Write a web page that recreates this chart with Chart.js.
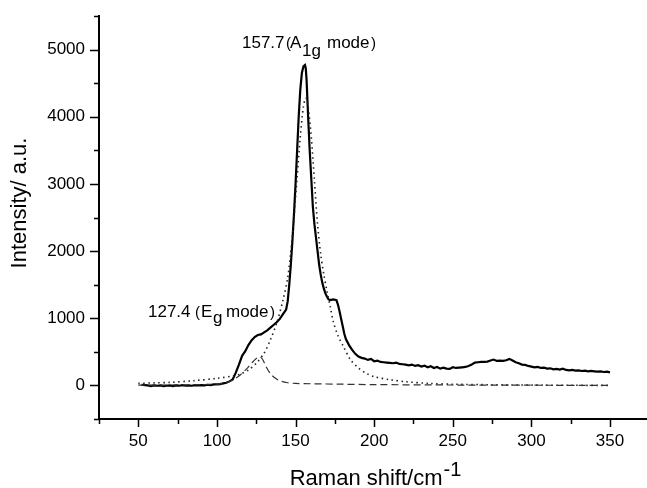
<!DOCTYPE html>
<html><head><meta charset="utf-8">
<script src="https://cdn.jsdelivr.net/npm/chart.js@4.4.1/dist/chart.umd.min.js"></script>
<style>html,body{margin:0;padding:0;background:#fff;overflow:hidden}#wrap{width:647px;height:488px;position:relative}</style>
</head><body><div id="wrap"><canvas id="c" width="647" height="488"></canvas></div>
<script>
// Measured Raman spectrum (solid)
const shiftX = [52,54,56,58,60,62,64,66,68,70,72,74,76,78,80,82,84,86,88,90,92,94,96,98,100,102,104,106,108,110,112,114,116,118,120,122,124,126,128,130,132,134,136,138,140,142,144,145,146,147,148,149,150,151,152,153,154,155,156,156.5,157,158,159,160,161,162,163,164,165,166,167,168,169,170,171,172,174,176,177,178,179,180,181,182,184,186,188,190,192,194,196,198,200,202,204,206,208,210,212,214,216,218,220,222,224,226,228,230,232,234,236,238,240,242,244,246,248,250,252,254,256,258,260,262,264,266,268,270,272,274,276,278,280,282,284,286,288,290,292,294,296,298,300,302,304,306,308,310,312,314,316,318,320,322,324,326,328,330,332,334,336,338,340,342,344,346,348,350];
const measured = [10,5,0,-10,0,-5,0,-10,-5,0,-10,0,-5,5,-5,0,-5,5,0,5,0,10,5,15,15,20,30,40,60,90,190,310,440,510,600,670,720,750,760,790,820,860,900,940,990,1060,1130,1250,1500,1800,2150,2550,3000,3500,4000,4400,4650,4750,4770,4720,4550,4000,3500,3080,2660,2400,2200,2000,1800,1650,1530,1440,1370,1320,1280,1270,1280,1270,1200,1100,990,880,770,690,600,530,470,430,410,400,380,395,360,370,350,345,340,335,330,340,320,315,310,300,310,290,300,280,295,270,285,260,275,250,265,250,245,270,260,265,270,275,290,310,340,345,350,350,355,370,385,365,370,365,375,395,370,345,330,310,305,290,280,270,275,260,265,250,255,240,245,235,250,230,225,230,220,225,215,220,210,215,210,205,210,200,205,195];
// A1g fitted component (dotted)
const fitA1gX = [50,60,70,85,100,110,115,120,125,130,134,138,142,145,147,149,151,153,155,156.5,158,160,162,164,166,168,170,172,174,177,180,185,190,195,200,210,220,235,250,275,300,325,350];
const fitA1g = [30,38,45,70,105,140,170,230,330,480,680,925,1270,1600,2000,2500,3100,3700,4150,4280,4150,3700,3050,2400,1950,1650,1400,1180,950,740,600,380,260,180,130,85,55,30,18,10,5,2,0];
// Eg fitted component (dashed)
const fitEgX = [50,80,100,105,110,115,119,122,125,127,129,131,134,137,140,145,150,160,180,200,250,300,350];
const fitEg = [5,8,20,35,80,160,250,330,400,425,390,290,175,110,70,40,30,25,18,12,6,3,0];
// Axis ticks
const xMajor = [50,100,150,200,250,300,350];
const xMinor = [25,75,125,175,225,275,325];
const yMajor = [0,1000,2000,3000,4000,5000];
const yMinor = [-500,500,1500,2500,3500,4500,5500];

const FONT = "'Liberation Sans', Arial, sans-serif";
const toPts = (xs, ys) => xs.map((x, i) => ({x: x, y: ys[i]}));

const deco = {
  id: 'deco',
  afterDraw(chart) {
    const ctx = chart.ctx, xs = chart.scales.x, ys = chart.scales.y, a = chart.chartArea;
    ctx.save();
    ctx.strokeStyle = '#000';
    ctx.lineWidth = 1.5;
    ctx.beginPath();
    xMajor.forEach(v => { const p = Math.round(xs.getPixelForValue(v)) + 0.5; ctx.moveTo(p, a.bottom); ctx.lineTo(p, a.bottom + 8); });
    xMinor.forEach(v => { if (v < xs.min) return; const p = Math.round(xs.getPixelForValue(v)) + 0.5; ctx.moveTo(p, a.bottom); ctx.lineTo(p, a.bottom + 5); });
    yMajor.forEach(v => { const p = Math.round(ys.getPixelForValue(v)) + 0.5; ctx.moveTo(a.left, p); ctx.lineTo(a.left - 9, p); });
    yMinor.forEach(v => { const p = Math.round(ys.getPixelForValue(v)) + 0.5; ctx.moveTo(a.left, p); ctx.lineTo(a.left - 5, p); });
    ctx.stroke();

    ctx.fillStyle = '#000';
    ctx.textBaseline = 'alphabetic';
    const t1 = 'Raman shift/cm', sup = '-1';
    ctx.font = '22px ' + FONT; const w1 = ctx.measureText(t1).width;
    ctx.font = '20px ' + FONT; const w2 = ctx.measureText(sup).width;
    const cx = (a.left + a.right) / 2;
    const sx = cx - (w1 + w2) / 2 + 2;
    ctx.font = '22px ' + FONT; ctx.textAlign = 'left';
    ctx.fillText(t1, sx, 485);
    ctx.font = '20px ' + FONT;
    ctx.fillText(sup, sx + w1 + 1, 476);
    // y title
    ctx.save();
    ctx.translate(26, 203);
    ctx.rotate(-Math.PI / 2);
    ctx.font = '22px ' + FONT; ctx.textAlign = 'center';
    ctx.fillText('Intensity/ a.u.', 0, 0);
    ctx.restore();

    // annotations
    const drawParts = (parts) => {
      parts.forEach(p => { ctx.font = p.size + 'px ' + FONT; ctx.textAlign = 'left'; ctx.fillText(p.t, p.x, p.y); });
    };
    drawParts([
      {t: '157.7', x: 242, y: 48, size: 17},
      {t: '(', x: 286, y: 48, size: 15},
      {t: 'A', x: 290, y: 48, size: 17},
      {t: '1g', x: 302, y: 56, size: 17},
      {t: 'mode', x: 327, y: 48, size: 17},
      {t: ')', x: 371, y: 48, size: 15}
    ]);
    drawParts([
      {t: '127.4', x: 148, y: 317, size: 17},
      {t: '(', x: 195, y: 317, size: 15},
      {t: 'E', x: 201, y: 317, size: 17},
      {t: 'g', x: 213, y: 323, size: 17},
      {t: 'mode', x: 226, y: 317, size: 17},
      {t: ')', x: 270, y: 317, size: 15}
    ]);
    ctx.restore();
  }
};

new Chart(document.getElementById('c'), {
  type: 'scatter',
  data: {
    datasets: [
      {data: toPts(fitEgX, fitEg), showLine: true, borderColor: '#333', borderWidth: 1.2, borderDash: [7, 4], pointRadius: 0, tension: 0.3},
      {data: toPts(fitA1gX, fitA1g), showLine: true, borderColor: '#222', borderWidth: 1.6, borderDash: [1.5, 3.5], pointRadius: 0, tension: 0.3},
      {data: toPts(shiftX, measured), showLine: true, borderColor: '#000', borderWidth: 2.2, pointRadius: 0, tension: 0}
    ]
  },
  options: {
    responsive: false, animation: false, devicePixelRatio: 1,
    layout: {padding: {left: 0, right: 0, top: 16, bottom: 0}},
    plugins: {legend: {display: false}, tooltip: {enabled: false}},
    scales: {
      x: {
        type: 'linear', min: 25, max: 373.5,
        afterBuildTicks: s => { s.ticks = xMajor.map(v => ({value: v})); },
        afterFit: s => { s.height = 69; },
        ticks: {color: '#000', font: {family: FONT, size: 17}, padding: 4, maxRotation: 0, autoSkip: false, callback: v => String(v)},
        grid: {drawOnChartArea: false, drawTicks: true, tickLength: 8, color: 'rgba(0,0,0,0)'},
        border: {display: true, color: '#000', width: 2}
      },
      y: {
        min: -500, max: 5500,
        afterBuildTicks: s => { s.ticks = yMajor.map(v => ({value: v})); },
        afterFit: s => { s.width = 99; },
        ticks: {color: '#000', font: {family: FONT, size: 17}, padding: 5, callback: v => String(v)},
        grid: {drawOnChartArea: false, drawTicks: true, tickLength: 9, color: 'rgba(0,0,0,0)'},
        border: {display: true, color: '#000', width: 2}
      }
    }
  },
  plugins: [deco]
});
</script></body></html>
